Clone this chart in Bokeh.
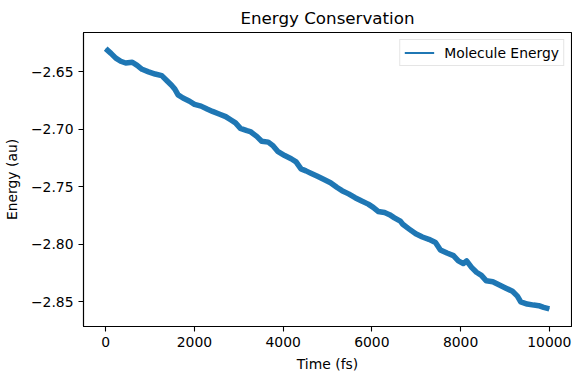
from bokeh.plotting import figure
from bokeh.models import Range1d, FixedTicker, CustomJSTickFormatter, Legend, LegendItem
from bokeh.embed import file_html
from bokeh.resources import INLINE

# Values
time_fs = [0, 120, 228, 339, 450, 599, 709, 820, 967, 1115, 1264, 1375, 1485, 1559,
           1632, 1743, 1891, 2002, 2150, 2297, 2408, 2556, 2705, 2816, 2926, 3037,
           3184, 3259, 3405, 3516, 3665, 3776, 3886, 4035, 4181, 4292, 4403, 4514,
           4625, 4773, 4922, 5068, 5217, 5327, 5476, 5622, 5771, 5919, 6030, 6141,
           6287, 6398, 6509, 6642, 6697, 6842, 6990, 7139, 7285, 7434, 7545, 7693,
           7839, 7950, 8061, 8136, 8247, 8358, 8469, 8580, 8726, 8875, 9023, 9169,
           9280, 9356, 9502, 9651, 9762, 9872, 10000]
energy_au = [-2.6298, -2.6339, -2.6381, -2.6408, -2.6423, -2.6417, -2.6444, -2.6478,
             -2.6500, -2.6519, -2.6533, -2.6575, -2.6617, -2.6650, -2.6700, -2.6728,
             -2.6756, -2.6783, -2.6798, -2.6825, -2.6844, -2.6867, -2.6889, -2.6917,
             -2.6944, -2.6992, -2.7011, -2.7019, -2.7061, -2.7103, -2.7111, -2.7144,
             -2.7194, -2.7228, -2.7256, -2.7283, -2.7344, -2.7361, -2.7381, -2.7408,
             -2.7436, -2.7464, -2.7506, -2.7533, -2.7561, -2.7594, -2.7623, -2.7650,
             -2.7678, -2.7714, -2.7723, -2.7742, -2.7769, -2.7798, -2.7825, -2.7867,
             -2.7908, -2.7936, -2.7956, -2.7983, -2.8048, -2.8075, -2.8098, -2.8144,
             -2.8167, -2.8144, -2.8200, -2.8242, -2.8269, -2.8317, -2.8325, -2.8353,
             -2.8381, -2.8408, -2.8450, -2.8500, -2.8519, -2.8528, -2.8533, -2.8548,
             -2.8561]
x_ticks = [0, 2000, 4000, 6000, 8000, 10000]
y_ticks = [-2.85, -2.80, -2.75, -2.70, -2.65]
series_name = "Molecule Energy"

FONT = "DejaVu Sans"
BLUE = "#1f77b4"

p = figure(width=572, height=374, output_backend="svg", toolbar_location=None,
           x_range=Range1d(-500, 10500), y_range=Range1d(-2.8714, -2.6158),
           min_border_left=74, min_border_right=1, min_border_top=22, min_border_bottom=45,
           title="Energy Conservation")

p.title.align = "center"
p.title.text_font = FONT
p.title.text_font_size = "16.7px"
p.title.text_font_style = "normal"
p.title.text_color = "black"

# thick band (fluctuation envelope) plus the thin trace used in the legend
p.line(time_fs, energy_au, line_color=BLUE, line_width=5.5, line_join="round")
trace = p.line(time_fs, energy_au, line_color=BLUE, line_width=1.8)

p.xgrid.visible = False
p.ygrid.visible = False
p.outline_line_color = "black"
p.outline_line_width = 1.1
p.outline_line_alpha = 1.0

for ax in (p.xaxis[0], p.yaxis[0]):
    ax.axis_line_color = "black"
    ax.axis_line_width = 1.1
    ax.major_tick_line_color = "black"
    ax.major_tick_line_width = 1.1
    ax.major_tick_out = 5
    ax.major_tick_in = 0
    ax.minor_tick_line_color = None
    ax.major_label_text_font = FONT
    ax.major_label_text_font_size = "13.9px"
    ax.major_label_text_color = "black"
    ax.axis_label_text_font = FONT
    ax.axis_label_text_font_size = "13.9px"
    ax.axis_label_text_font_style = "normal"
    ax.axis_label_text_color = "black"
    ax.major_label_standoff = 5

p.xaxis[0].ticker = FixedTicker(ticks=x_ticks)
p.yaxis[0].ticker = FixedTicker(ticks=y_ticks)
p.xaxis[0].formatter = CustomJSTickFormatter(code="return tick.toFixed(0);")
p.yaxis[0].formatter = CustomJSTickFormatter(
    code="return (tick < 0 ? '\u2212' : '') + Math.abs(tick).toFixed(2);")
p.xaxis[0].axis_label = "Time (fs)"
p.yaxis[0].axis_label = "Energy (au)"
p.xaxis[0].axis_label_standoff = 6
p.yaxis[0].axis_label_standoff = 8

legend = Legend(items=[LegendItem(label=series_name, renderers=[trace])],
                location="top_right")
legend.label_text_font = FONT
legend.label_text_font_size = "13.9px"
legend.label_text_color = "black"
legend.border_line_color = "#cccccc"
legend.border_line_width = 1
legend.background_fill_alpha = 0.8
legend.margin = 7
legend.padding = 4
legend.glyph_width = 30
legend.glyph_height = 17
legend.label_height = 17
legend.label_standoff = 10
legend.spacing = 0
p.add_layout(legend)

open("out.html", "w").write(file_html(p, INLINE))
